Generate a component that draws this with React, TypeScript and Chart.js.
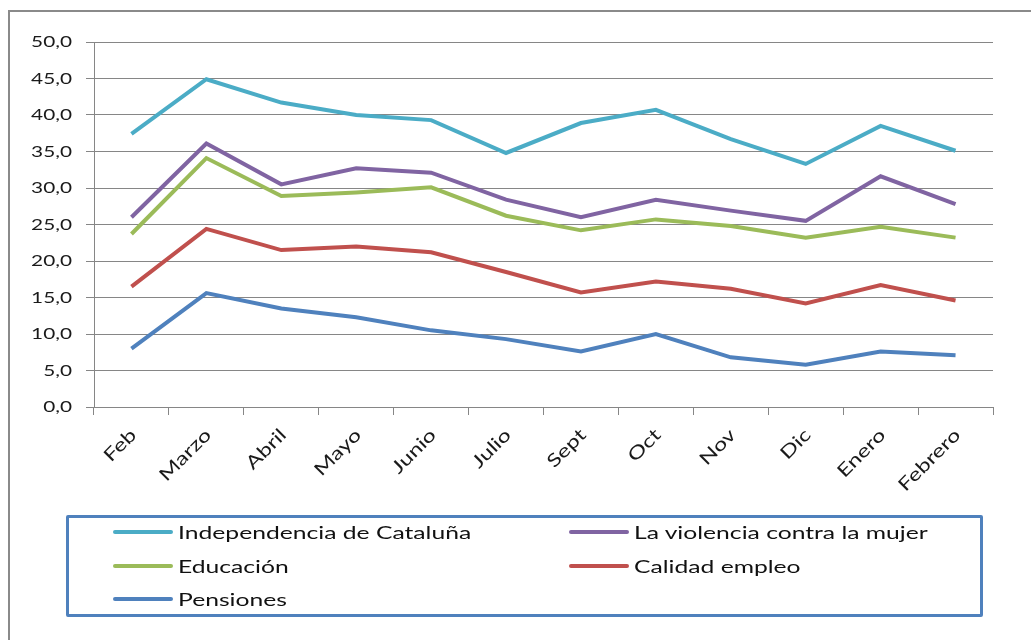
import React, { useEffect, useRef } from "react";
import { Chart, registerables } from "chart.js";

Chart.register(...registerables);

const categories = ["Feb", "Marzo", "Abril", "Mayo", "Junio", "Julio", "Sept", "Oct", "Nov", "Dic", "Enero", "Febrero"];
const independencia = [37.4, 44.9, 41.7, 40.0, 39.3, 34.8, 38.9, 40.7, 36.7, 33.3, 38.5, 35.1];
const violencia = [26.0, 36.1, 30.5, 32.7, 32.1, 28.4, 26.0, 28.4, 26.9, 25.5, 31.6, 27.8];
const educacion = [23.7, 34.1, 28.9, 29.4, 30.1, 26.2, 24.2, 25.7, 24.8, 23.2, 24.7, 23.2];
const calidad = [16.5, 24.4, 21.5, 22.0, 21.2, 18.5, 15.7, 17.2, 16.2, 14.2, 16.7, 14.6];
const pensiones = [8.0, 15.6, 13.5, 12.3, 10.5, 9.3, 7.6, 10.0, 6.8, 5.8, 7.6, 7.1];

const seriesNames = ["Independencia de Cataluña", "La violencia contra la mujer", "Educación", "Calidad empleo", "Pensiones"];
const seriesColors = ["#4BACC6", "#8064A2", "#9BBB59", "#C0504D", "#4F81BD"];
const seriesData = [independencia, violencia, educacion, calidad, pensiones];

const FONT = "Lato, 'Open Sans', sans-serif";
const STRETCH = 1.3;

const stretchedTicks = {
  id: "stretchedTicks",
  afterDraw(chart: any) {
    const ctx = chart.ctx as CanvasRenderingContext2D;
    const xs = chart.scales.x;
    const ys = chart.scales.y;
    ctx.save();
    ctx.fillStyle = "#1a1a1a";
    // y labels
    ctx.font = `16px ${FONT}`;
    ctx.textAlign = "right";
    ctx.textBaseline = "middle";
    ys.ticks.forEach((t: any, i: number) => {
      const y = ys.getPixelForTick(i);
      const label = Number(t.value).toFixed(1).replace(".", ",");
      ctx.save();
      ctx.translate(72, y);
      ctx.scale(STRETCH, 1);
      ctx.fillText(label, 0, 0);
      ctx.restore();
    });
    // x labels
    ctx.font = `18px ${FONT}`;
    const top = xs.top;
    xs.ticks.forEach((t: any, i: number) => {
      const x = xs.getPixelForTick(i);
      const label = chart.data.labels[i];
      ctx.save();
      ctx.translate(x + 2, top + 25);
      ctx.rotate(-Math.PI / 4);
      ctx.scale(STRETCH, 1);
      ctx.textAlign = "right";
      ctx.textBaseline = "middle";
      ctx.fillText(label, 0, 0);
      ctx.restore();
    });
    ctx.restore();
  },
};

export default function App() {
  const canvasRef = useRef<HTMLCanvasElement | null>(null);

  useEffect(() => {
    const canvas = canvasRef.current;
    if (!canvas) return;
    const chart = new Chart(canvas, {
      type: "line",
      data: {
        labels: categories,
        datasets: seriesNames.map((name, i) => ({
          label: name,
          data: seriesData[i],
          borderColor: seriesColors[i],
          backgroundColor: seriesColors[i],
          borderWidth: 4,
          pointRadius: 0,
          pointHoverRadius: 0,
          tension: 0,
          fill: false,
        })),
      },
      options: {
        animation: false,
        responsive: false,
        maintainAspectRatio: false,
        events: [],
        layout: { padding: { left: 0, top: 42, right: 38, bottom: 133 } },
        plugins: { legend: { display: false }, tooltip: { enabled: false } },
        scales: {
          x: {
            offset: true,
            grid: {
              offset: true,
              drawOnChartArea: false,
              drawTicks: true,
              tickLength: 8,
              color: "#868686",
            },
            border: { display: true, color: "#868686", width: 1 },
            ticks: {
              maxRotation: 45,
              minRotation: 45,
              autoSkip: false,
              color: "rgba(0,0,0,0)",
              font: { family: FONT, size: 17 },
            },
            afterFit: (scale: any) => {
              scale.height = 100;
            },
          },
          y: {
            min: 0,
            max: 50,
            ticks: {
              stepSize: 5,
              color: "rgba(0,0,0,0)",
              padding: 14,
              font: { family: FONT, size: 16 },
              callback: (v: any) => Number(v).toFixed(1).replace(".", ","),
            },
            grid: { color: "#868686", lineWidth: 1, tickLength: 8 },
            border: { display: true, color: "#868686", width: 1 },
            afterFit: (scale: any) => {
              scale.width = 94;
            },
          },
        },
      },
      plugins: [stretchedTicks],
    });
    return () => chart.destroy();
  }, []);

  const legendItem = (i: number, left: number, top: number) => (
    <div key={i} style={{ position: "absolute", left, top, display: "flex", alignItems: "center", height: 24 }}>
      <div style={{ width: 60, height: 4, borderRadius: 2, background: seriesColors[i], marginRight: 5 }} />
      <span
        style={{
          fontFamily: FONT,
          fontSize: 18,
          color: "#111",
          whiteSpace: "nowrap",
          display: "inline-block",
          transform: "scaleX(1.37)",
          transformOrigin: "left center",
        }}
      >
        {seriesNames[i]}
      </span>
    </div>
  );

  return (
    <div style={{ position: "fixed", left: 0, top: 0, width: 1031, height: 640, overflow: "hidden", background: "#fff" }}>
      <div
        style={{
          position: "absolute",
          left: 8,
          top: 10,
          width: 1100,
          height: 700,
          borderLeft: "2px solid #8a8a8a",
          borderTop: "2px solid #8a8a8a",
        }}
      />
      <canvas ref={canvasRef} width={1031} height={640} style={{ position: "absolute", left: 0, top: 0 }} />
      <div
        style={{
          position: "absolute",
          left: 66,
          top: 515,
          width: 911,
          height: 96,
          border: "3px solid #4F81BD",
          borderRadius: 2,
        }}
      />
      {legendItem(0, 113, 520)}
      {legendItem(1, 569, 520)}
      {legendItem(2, 113, 554)}
      {legendItem(3, 569, 554)}
      {legendItem(4, 113, 587)}
    </div>
  );
}
